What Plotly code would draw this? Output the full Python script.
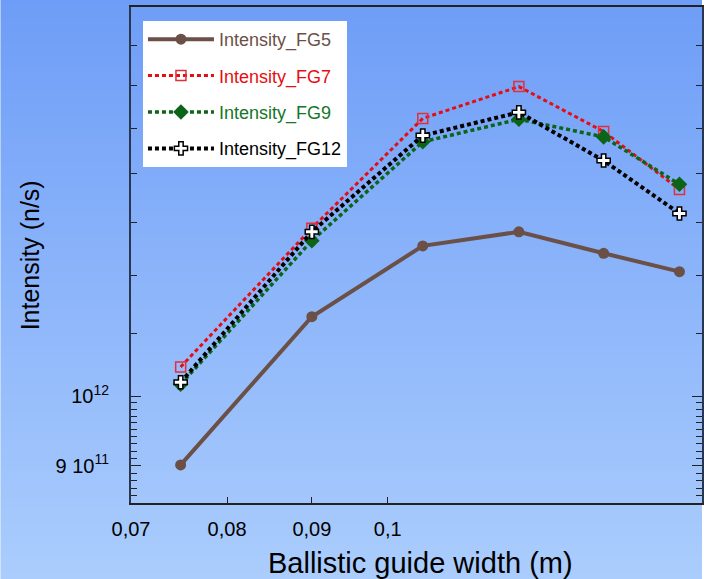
import base64, struct, zlib
import plotly.graph_objects as go

# ---- data ----
width_m = [0.075, 0.09, 0.105, 0.12, 0.135, 0.15]
fg5 = [0.901e12, 1.1275e12, 1.255e12, 1.282e12, 1.241e12, 1.207e12]
fg7 = [1.045e12, 1.289e12, 1.522e12, 1.597e12, 1.492e12, 1.367e12]
fg9 = [1.018e12, 1.265e12, 1.469e12, 1.520e12, 1.480e12, 1.3775e12]
fg12 = [1.021e12, 1.282e12, 1.483e12, 1.536e12, 1.428e12, 1.318e12]

x_tickvals = [0.07, 0.08, 0.09, 0.1]
x_ticktext = ["0,07", "0,08", "0,09", "0,1"]
y_tickvals = [9e11, 1e12]
y_ticktext = ["9 10<sup>11</sup>", "10<sup>12</sup>"]
y_minor = [v * 1e10 for v in range(85, 100) if v != 90] + [v * 1e11 for v in range(11, 18)]

# ---- gradient background png ----
W, H = 704, 579
top = (110, 157, 247)
bot = (171, 205, 253)
rows = []
for i in range(H):
    t = i / (H - 1)
    c = tuple(int(round(top[k] + (bot[k] - top[k]) * t)) for k in range(3))
    rows.append(b"\x00" + bytes(c))
raw = b"".join(rows)

def chunk(tag, data):
    c = struct.pack(">I", len(data)) + tag + data
    return c + struct.pack(">I", zlib.crc32(tag + data) & 0xFFFFFFFF)

png = b"\x89PNG\r\n\x1a\n" + chunk(b"IHDR", struct.pack(">IIBBBBB", 1, H, 8, 2, 0, 0, 0)) \
    + chunk(b"IDAT", zlib.compress(raw, 9)) + chunk(b"IEND", b"")
src = "data:image/png;base64," + base64.b64encode(png).decode()

L, R, T, B = 131, 0, 7, 76
pw, ph = W - L - R, H - T - B

FONT = "Liberation Sans, Arial, sans-serif"
brown = "#6b5048"
red = "#e60d12"
green = "#0b6418"
black = "#000000"

fig = go.Figure()
fig.add_trace(go.Scatter(
    x=width_m, y=fg5, mode="lines+markers", legendgroup="a",
    name='<span style="color:#6b5048">Intensity_FG5</span>',
    line=dict(color=brown, width=4),
    marker=dict(symbol="circle", size=11, color=brown)))
fig.add_trace(go.Scatter(
    x=width_m, y=fg7, mode="lines+markers", legendgroup="b",
    name='<span style="color:#e60d12">Intensity_FG7</span>',
    line=dict(color=red, width=3, dash="4px,3px"),
    marker=dict(symbol="square-open", size=10, color="#e0303a", line=dict(width=1.5))))
fig.add_trace(go.Scatter(
    x=width_m, y=fg9, mode="lines+markers", legendgroup="c",
    name='<span style="color:#16752a">Intensity_FG9</span>',
    line=dict(color=green, width=3.5, dash="4px,3px"),
    marker=dict(symbol="diamond", size=12, color=green)))
fig.add_trace(go.Scatter(
    x=width_m, y=fg12, mode="lines+markers", legendgroup="d",
    name='<span style="color:#000000">Intensity_FG12</span>',
    line=dict(color=black, width=4, dash="4px,3px"),
    marker=dict(symbol="cross", size=11, color="white", line=dict(color=black, width=1.5))))

fig.update_layout(
    width=W, height=H,
    margin=dict(l=L, r=R, t=T, b=B),
    paper_bgcolor="rgba(0,0,0,0)",
    plot_bgcolor="rgba(0,0,0,0)",
    font=dict(family=FONT, size=20, color="black"),
    images=[dict(source=src, xref="paper", yref="paper",
                 x=-L / pw, y=1 + T / ph, sizex=W / pw, sizey=H / ph,
                 xanchor="left", yanchor="top", sizing="stretch", layer="below")],
    legend=dict(x=(143 - L) / pw, y=1 - (21 - T) / ph, xanchor="left", yanchor="top",
                bgcolor="white", borderwidth=0, font=dict(size=18, family=FONT),
                itemwidth=66, tracegroupgap=10, traceorder="grouped"),
    showlegend=True,
    xaxis=dict(type="log", range=[-1.15490, -0.81030],
               tickmode="array", tickvals=x_tickvals, ticktext=x_ticktext,
               ticks="inside", ticklen=6, tickwidth=1, tickcolor="#222",
               showline=True, linecolor="#222", linewidth=1.5, mirror=True,
               showgrid=False, zeroline=False, ticklabelstandoff=7,
               tickfont=dict(size=20)),
    yaxis=dict(type="log", range=[11.9297, 12.2556],
               tickmode="array", tickvals=y_tickvals, ticktext=y_ticktext,
               ticks="inside", ticklen=10, tickwidth=1, tickcolor="#222",
               minor=dict(tickmode="array", tickvals=y_minor, ticks="inside",
                          ticklen=6, tickcolor="#222", tickwidth=1, showgrid=False),
               showline=True, linecolor="#2a3550", linewidth=2, mirror="ticks",
               showgrid=False, zeroline=False, ticklabelstandoff=16,
               tickfont=dict(size=20)),
    annotations=[
        dict(text="Ballistic guide width (m)", xref="paper", yref="paper",
             x=(422 - L) / pw, y=1 - (563 - T) / ph, showarrow=False,
             xanchor="center", yanchor="middle", font=dict(size=29, family=FONT)),
        dict(text="Intensity (n/s)", xref="paper", yref="paper",
             x=(30 - L) / pw, y=1 - (255 - T) / ph, showarrow=False, textangle=-90,
             xanchor="center", yanchor="middle", font=dict(size=25, family=FONT)),
    ],
)

fig.write_html("out.html")
